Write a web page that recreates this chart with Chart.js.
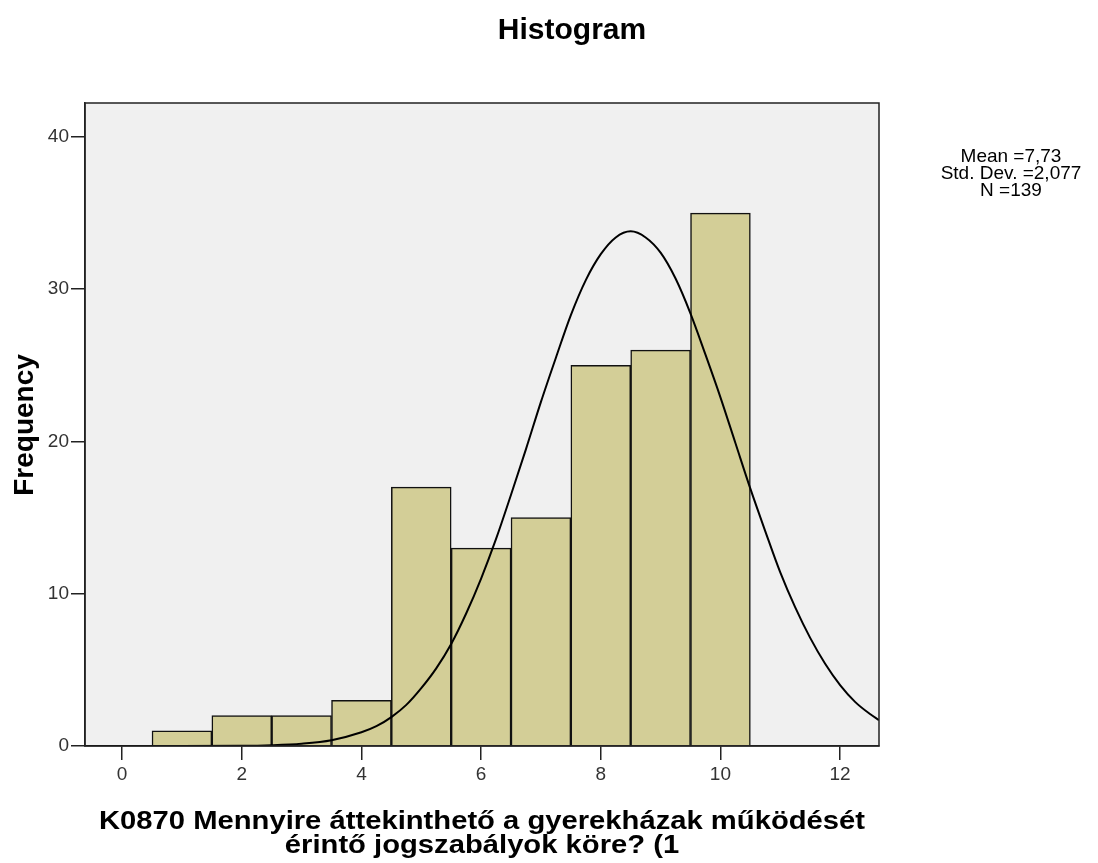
<!DOCTYPE html>
<html>
<head>
<meta charset="utf-8">
<script src="https://cdn.jsdelivr.net/npm/chart.js@4.4.1/dist/chart.umd.min.js"></script>
<style>
  html, body { margin: 0; padding: 0; background: #ffffff; }
  #wrap { width: 1098px; height: 863px; position: relative; }
</style>
</head>
<body>
<div id="wrap"><canvas id="c" width="1098" height="863"></canvas></div>
<script>
// ---- data ----
const binCenters = [1, 2, 3, 4, 5, 6, 7, 8, 9, 10];
const frequencies = [1, 2, 2, 3, 17, 13, 15, 25, 26, 35];
const curveX = [-0.62, 0, 1, 2, 2.5, 3, 3.5, 4, 4.25, 4.5, 4.75, 5, 5.25, 5.5, 5.75, 6, 6.25, 6.5, 6.75, 7, 7.25, 7.5, 7.75, 8, 8.25, 8.5,
                8.75, 9, 9.25, 9.5, 9.75, 10, 10.25, 10.5, 10.75, 11, 11.25, 11.5, 11.75, 12, 12.25, 12.5, 12.65];
const curveY = [0, 0, 0, 0.01, 0.05, 0.15, 0.38, 0.9, 1.3, 1.9, 2.7, 3.8, 5.1, 6.7, 8.7, 11.0, 13.6, 16.5, 19.5, 22.6, 25.5, 28.3, 30.6, 32.3, 33.4, 33.8,
                33.4, 32.4, 30.7, 28.4, 25.7, 22.9, 19.9, 16.9, 14.1, 11.4, 9.1, 7.1, 5.4, 4.0, 2.9, 2.1, 1.7];
const xTicks = [0, 2, 4, 6, 8, 10, 12];
const yTicks = [0, 10, 20, 30, 40];
const titleText = 'Histogram';
const yTitle = 'Frequency';
const xTitleLines = ['K0870 Mennyire áttekinthető a gyerekházak működését', 'érintő jogszabályok köre? (1'];
const statsLines = ['Mean =7,73', 'Std. Dev. =2,077', 'N =139'];

const barData = binCenters.map((x, i) => ({ x: x, y: frequencies[i] }));
const curveData = curveX.map((x, i) => ({ x: x, y: curveY[i] }));

const FONT = '"Liberation Sans", Arial, sans-serif';

const decor = {
  id: 'decor',
  beforeDraw(chart) {
    const { ctx, chartArea: a } = chart;
    ctx.save();
    ctx.fillStyle = '#f0f0f0';
    ctx.fillRect(a.left, a.top, a.right - a.left, a.bottom - a.top);
    ctx.restore();
  },
  afterDraw(chart) {
    const { ctx, chartArea: a } = chart;
    ctx.save();
    ctx.strokeStyle = '#222';
    ctx.lineWidth = 1.5;
    ctx.strokeRect(a.left, a.top, a.right - a.left, a.bottom - a.top);
    ctx.fillStyle = '#000';
    ctx.textAlign = 'center';
    ctx.textBaseline = 'alphabetic';
    ctx.font = 'bold 30px ' + FONT;
    ctx.fillText(titleText, 572, 39);
    ctx.font = '19px ' + FONT;
    statsLines.forEach((s, i) => ctx.fillText(s, 1011, 162 + i * 17));
    const cx = (a.left + a.right) / 2;
    ctx.font = 'bold 26px ' + FONT;
    const w0 = ctx.measureText(xTitleLines[0]).width;
    const sx = 766 / w0;
    ctx.save();
    ctx.translate(cx, 0);
    ctx.scale(sx, 1);
    ctx.fillText(xTitleLines[0], 0, 829);
    ctx.fillText(xTitleLines[1], 0, 853);
    ctx.restore();
    ctx.translate(33, 425);
    ctx.rotate(-Math.PI / 2);
    ctx.font = 'bold 28px ' + FONT;
    ctx.fillText(yTitle, 0, 0);
    ctx.restore();
  }
};

new Chart(document.getElementById('c'), {
  type: 'bar',
  data: {
    datasets: [
      {
        type: 'line',
        data: curveData,
        borderColor: '#000',
        borderWidth: 2,
        pointRadius: 0,
        cubicInterpolationMode: 'monotone',
        fill: false,
        order: 0
      },
      {
        type: 'bar',
        data: barData,
        backgroundColor: '#d3ce97',
        borderColor: '#111',
        borderWidth: 1.5,
        barPercentage: 1.0,
        categoryPercentage: 1.0,
        order: 1
      }
    ]
  },
  options: {
    responsive: false,
    animation: false,
    events: [],
    layout: { padding: { left: 0, top: 103, right: 219, bottom: 0 } },
    plugins: { legend: { display: false }, tooltip: { enabled: false }, title: { display: false } },
    scales: {
      x: {
        type: 'linear',
        offset: false,
        min: -0.62,
        max: 12.65,
        afterBuildTicks: s => { s.ticks = xTicks.map(v => ({ value: v })); },
        afterFit: s => { s.height = 117; },
        grid: { offset: false, drawOnChartArea: false, drawTicks: true, tickLength: 14, color: '#222', lineWidth: 1.5 },
        border: { display: true, color: '#222', width: 1.5 },
        ticks: { font: { family: FONT, size: 19 }, color: '#333', padding: 3, maxRotation: 0 }
      },
      y: {
        type: 'linear',
        min: 0,
        max: 42.23,
        afterBuildTicks: s => { s.ticks = yTicks.map(v => ({ value: v })); },
        afterFit: s => { s.width = 85; },
        grid: { drawOnChartArea: false, drawTicks: true, tickLength: 14, color: '#222', lineWidth: 1.5 },
        border: { display: true, color: '#222', width: 1.5 },
        ticks: { font: { family: FONT, size: 19 }, color: '#333', padding: 2 }
      }
    }
  },
  plugins: [decor]
});
</script>
</body>
</html>
